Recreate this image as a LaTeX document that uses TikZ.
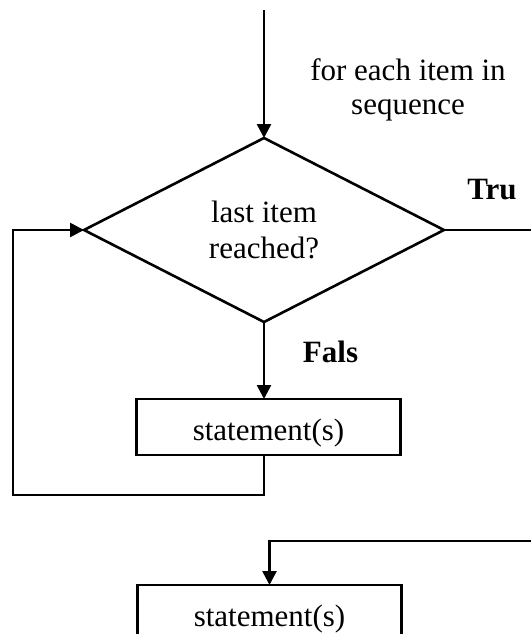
\documentclass[tikz,border=0pt]{standalone}
\usepackage{fontspec}
\setmainfont{Liberation Serif}
\usetikzlibrary{shapes.geometric,arrows.meta}
\tikzset{
  ln/.style={line width=2.6pt, line join=miter},
  arr/.style={ln, -{Triangle[length=14pt,width=14pt]}},
  decision/.style={diamond, draw, ln, inner sep=0pt, outer sep=0pt,
    minimum width=360pt, minimum height=184pt, align=center,
    font=\fontsize{31}{36}\selectfont},
  stepbox/.style={rectangle, draw, ln, inner sep=0pt, outer sep=0pt,
    minimum width=264pt, minimum height=56pt,
    text height=26pt, text depth=0pt, font=\fontsize{31}{36}\selectfont},
  txt/.style={align=center, inner sep=0pt, font=\fontsize{31}{34}\selectfont},
  lbl/.style={inner sep=0pt, font=\fontsize{31}{36}\selectfont\bfseries}
}
\begin{document}
\begin{tikzpicture}[x=1pt,y=-1pt]
\clip (0,0) rectangle (531,634);
\fill[white] (0,0) rectangle (531,634);
\node[decision] (dec) at (264,230) {last item\\reached?};
\node[stepbox] (box1) at (268.5,427) {statement(s)};
\node[stepbox] (box2) at (269.5,613) {statement(s)};
\node[txt] (loophead) at (408,90) {for each item in\\sequence};
\node[lbl, anchor=base] (tru) at (492,199) {Tru};
\node[lbl, anchor=base] (fals) at (330.5,362) {Fals};
\coordinate (start) at (264,10);
\coordinate (lb) at (13,495);
\coordinate (tend) at (531,230);
\coordinate (nextin) at (531,541);
\draw[arr] (start) -- (dec.north);
\draw[arr] (dec.south) -- (dec.south |- box1.north);
\draw[arr] (dec.south |- box1.south) |- (lb) |- (dec.west);
\draw[ln] (dec.east) -- (tend);
\draw[arr] (nextin) -| (box2.north);
\end{tikzpicture}
\end{document}
